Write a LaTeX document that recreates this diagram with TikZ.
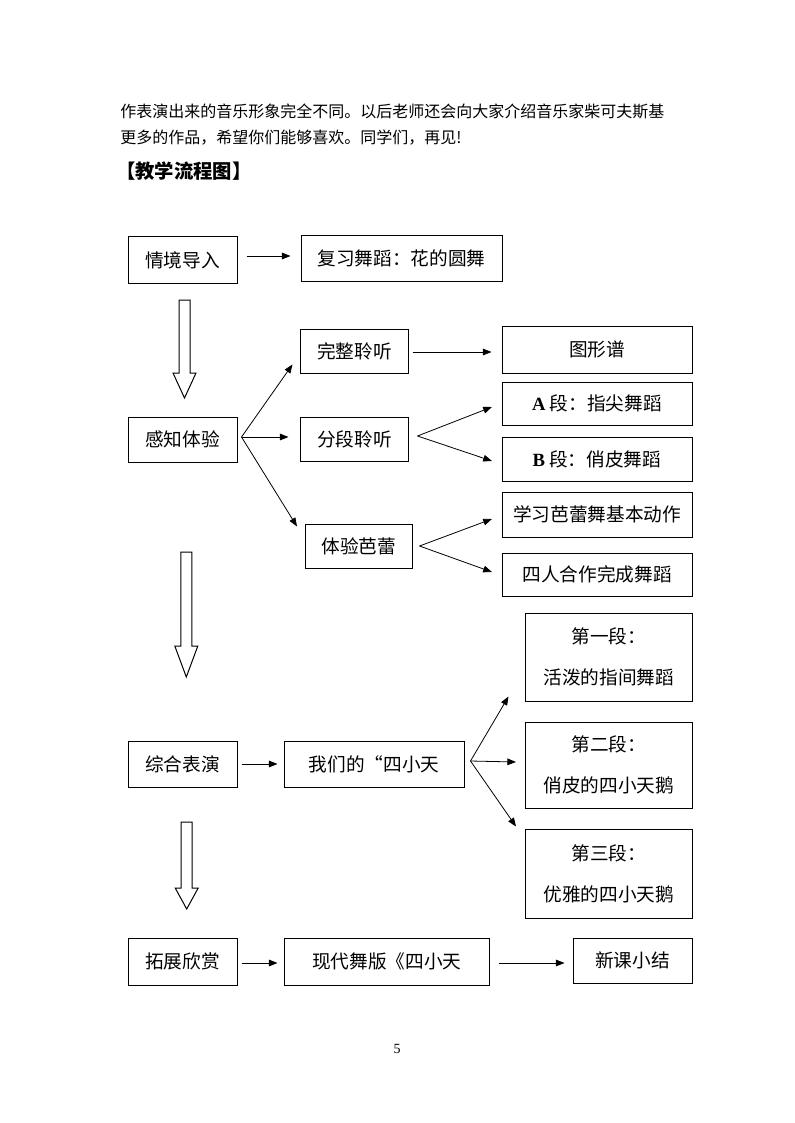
\documentclass[tikz,border=0pt]{standalone}
\usepackage{fontspec}
\setmainfont{Liberation Serif}
\newfontfamily\cjk{Noto Sans CJK SC}
\usetikzlibrary{calc,arrows.meta}

\tikzset{
  box/.style={draw, line width=0.75pt, inner sep=0pt, align=center,
    font=\cjk\fontsize{14}{30.75}\selectfont},
  wh/.style 2 args={minimum width=#1*0.75pt, minimum height=#2*0.75pt},
  flow/.style={-{Triangle[length=6.5pt,width=5pt]}, line width=0.6pt},
  hollow/.style={draw, line width=0.75pt, fill=white},
}

\begin{document}
\begin{tikzpicture}[x=0.75pt, y=-0.75pt]
        \useasboundingbox (0,0) rectangle (794,1123);

        %
        \node[anchor=west, inner sep=0pt, font=\cjk\fontsize{12}{16}\selectfont] (lineA) at (120,111.5)
          {作表演出来的音乐形象完全不同。以后老师还会向大家介绍音乐家柴可夫斯基};
        \node[anchor=west, inner sep=0pt, font=\cjk\fontsize{12}{16}\selectfont] (lineB) at (120,137.5)
          {更多的作品，希望你们能够喜欢。同学们，再见!};
        \node[anchor=west, inner sep=0pt, font=\cjk\bfseries\fontsize{14.5}{18}\selectfont] (title) at (116,171)
          {【教学流程图】};

        %
        \node[box, wh={109}{46}] (intro) at (182.5,260) {情境导入};
        \node[box, wh={201}{45}] (review) at (401.5,258.5) {复习舞蹈：花的圆舞};

        \node[box, wh={108}{44}] (listenAll) at (354.5,351) {完整聆听};
        \node[box, wh={190}{47}] (graph) at (597,349.5) {图形谱};
        \node[box, wh={190}{43}] (partA) at (597,403.5) {{\rmfamily\bfseries A} 段：指尖舞蹈};
        \node[box, wh={109}{45}] (perceive) at (182.5,439.5) {感知体验};
        \node[box, wh={108}{44}] (listenPart) at (354.5,439) {分段聆听};
        \node[box, wh={190}{44}] (partB) at (597,459) {{\rmfamily\bfseries B} 段：俏皮舞蹈};
        \node[box, wh={190}{45}] (balletA) at (597,514.5) {学习芭蕾舞基本动作};
        \node[box, wh={106.5}{44}] (ballet) at (358.75,546) {体验芭蕾};
        \node[box, wh={190}{43}] (balletB) at (597,574.5) {四人合作完成舞蹈};

        \node[box, wh={166.5}{88}] (secA) at (608.75,657) {第一段：\\活泼的指间舞蹈};
        \node[box, wh={109}{46}] (show) at (182.5,764) {综合表演};
        \node[box, wh={179.5}{46}] (swans) at (374.25,764) {我们的“四小天};
        \node[box, wh={166.5}{86}] (secB) at (608.75,765) {第二段：\\俏皮的四小天鹅};
        \node[box, wh={166.5}{89}] (secC) at (608.75,873.5) {第三段：\\优雅的四小天鹅};

        \node[box, wh={109}{47}] (extend) at (182.5,961.5) {拓展欣赏};
        \node[box, wh={204.5}{47}] (modern) at (386.75,961.5) {现代舞版《四小天};
        \node[box, wh={119}{45}] (summary) at (632.5,960.5) {新课小结};

        %
        \foreach \ax/\ya/\yb/\yc in {184.5/300/373/398, 186.3/552/646/677, 186.7/822/888/909}
          \draw[hollow] (\ax-5.5,\ya) -- (\ax+5.5,\ya) -- (\ax+5.5,\yb) -- (\ax+11.5,\yb)
            -- (\ax,\yc) -- (\ax-11.5,\yb) -- (\ax-5.5,\yb) -- cycle;

        %
        \draw[flow] ($(intro.east)+(9,-4)$) -- ($(review.west)+(-10,-2.5)$);
        \draw[flow] ($(listenAll.east)+(3.5,1)$) -- ($(graph.west)+(-10,2.5)$);

        \coordinate (pO) at ($(perceive.east)+(4,-2.5)$);
        \draw[flow] (pO) -- ($(listenAll.south west)+(-7.5,-9)$);
        \draw[flow] (pO) -- ($(listenPart.west)+(-11.5,-2)$);
        \draw[flow] (pO) -- ($(ballet.north west)+(-8,3)$);

        \coordinate (lO) at ($(listenPart.east)+(8.5,-3)$);
        \draw[flow] (lO) -- ($(partA.west)+(-9.6,3.5)$);
        \draw[flow] (lO) -- ($(partB.west)+(-9.6,2)$);

        \coordinate (bO) at ($(ballet.east)+(7,0)$);
        \draw[flow] (bO) -- ($(balletA.west)+(-9.6,4.5)$);
        \draw[flow] (bO) -- ($(balletB.west)+(-9.6,-2.5)$);

        \draw[flow] ($(show.east)+(4,0)$) -- ($(swans.west)+(-6.5,0)$);
        \coordinate (sO) at ($(swans.east)+(6,-3)$);
        \draw[flow] (sO) -- ($(secA.south west)+(-16.5,-5)$);
        \draw[flow] (sO) -- ($(secB.west)+(-9,-3)$);
        \draw[flow] (sO) -- ($(secC.north west)+(-9,-2)$);

        \draw[flow] ($(extend.east)+(4,1.5)$) -- ($(modern.west)+(-6.5,1.5)$);
        \draw[flow] ($(modern.east)+(9,1.5)$) -- ($(summary.west)+(-8,2.5)$);

        %
        \node[inner sep=0pt, font=\fontsize{10.5}{12}\selectfont] (page) at (397,1048.5) {5};
\end{tikzpicture}
\end{document}
